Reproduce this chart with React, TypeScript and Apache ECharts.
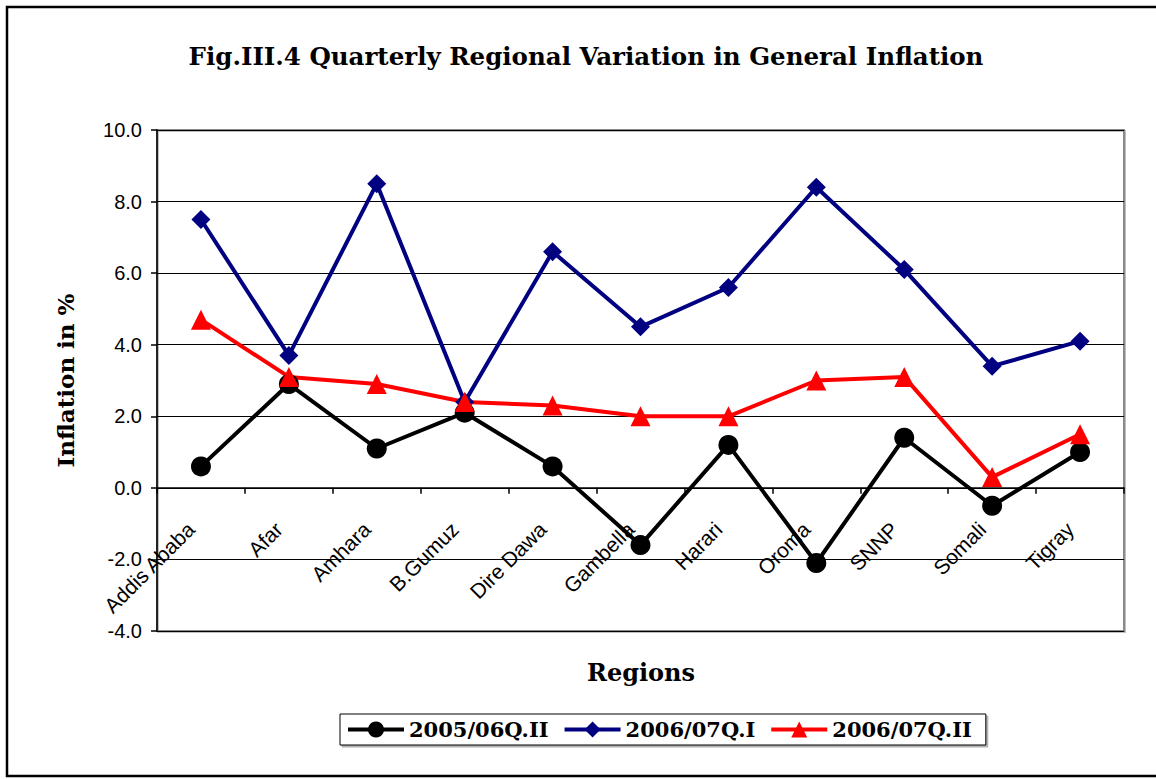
import React, { useEffect, useRef } from "react";
import * as echarts from "echarts";

const regions = ["Addis Ababa", "Afar", "Amhara", "B.Gumuz", "Dire Dawa", "Gambella", "Harari", "Oroma", "SNNP", "Somali", "Tigray"];
const s2005Q2 = [0.6, 2.9, 1.1, 2.1, 0.6, -1.6, 1.2, -2.1, 1.4, -0.5, 1.0];
const s2006Q1 = [7.5, 3.7, 8.5, 2.4, 6.6, 4.5, 5.6, 8.4, 6.1, 3.4, 4.1];
const s2006Q2 = [4.7, 3.1, 2.9, 2.4, 2.3, 2.0, 2.0, 3.0, 3.1, 0.3, 1.5];
const seriesNames = ["2005/06Q.II", "2006/07Q.I", "2006/07Q.II"];
const yMin = -4;
const yMax = 10;

const SERIF = "'DejaVu Serif', serif";
const SANS = "'Liberation Sans', Arial, sans-serif";

const GRID_TOP = 130;
const GRID_BOTTOM = 148;
const CHART_H = 779;

export default function App() {
  const ref = useRef<HTMLDivElement>(null);
  useEffect(() => {
    const chart = echarts.init(ref.current!, null, { renderer: "svg" });
    const plotH = CHART_H - GRID_TOP - GRID_BOTTOM;
    const zeroOffset = -(plotH * (0 - yMin)) / (yMax - yMin);
    chart.setOption({
      animation: false,
      backgroundColor: "#fff",
      grid: {
        left: 157, right: 32, top: GRID_TOP, bottom: GRID_BOTTOM,
        show: true, borderColor: "#8a8a8a", borderWidth: 2,
        shadowColor: "rgba(0,0,0,0.25)", shadowOffsetX: 1, shadowOffsetY: 1, shadowBlur: 1,
      },
      graphic: [
        { type: "rect", shape: { x: 7, y: 7, width: 1160, height: 769 }, style: { fill: "none", stroke: "#000", lineWidth: 2.5 }, silent: true },
        { type: "text", x: 586, y: 56, style: { text: "Fig.III.4 Quarterly Regional Variation in General Inflation", font: `bold 24.5px ${SERIF}`, fill: "#000", textAlign: "center", textVerticalAlign: "middle" } },
        { type: "text", x: 641, y: 672, style: { text: "Regions", font: `bold 24px ${SERIF}`, fill: "#000", textAlign: "center", textVerticalAlign: "middle" } },
      ],
      legend: {
        data: seriesNames,
        left: 340, top: 714, width: 700,
        itemWidth: 56, itemHeight: 20, itemGap: 14,
        padding: [5, 14, 5, 6],
        borderColor: "#000", borderWidth: 1, backgroundColor: "#fff",
        shadowColor: "rgba(0,0,0,0.3)", shadowOffsetX: 2, shadowOffsetY: 2,
        lineStyle: { width: 4 },
        textStyle: { fontFamily: SERIF, fontWeight: "bold", fontSize: 21, color: "#000" },
      },
      xAxis: {
        type: "category",
        data: regions,
        boundaryGap: true,
        offset: zeroOffset,
        axisLine: { onZero: false, lineStyle: { color: "#000", width: 1.5 } },
        axisTick: { show: true, length: 6, lineStyle: { color: "#000", width: 1.5 } },
        axisLabel: { rotate: 45, margin: 28, padding: [0, 14, 0, 0], fontFamily: SANS, fontSize: 21, color: "#000", interval: 0 },
      },
      yAxis: {
        type: "value",
        min: yMin, max: yMax, interval: 2,
        name: "Inflation in %",
        nameLocation: "middle",
        nameGap: 80,
        nameTextStyle: { fontFamily: SERIF, fontWeight: "bold", fontSize: 23, color: "#000" },
        axisLine: { show: true, lineStyle: { color: "#000", width: 1.5 } },
        axisTick: { show: true, length: 6, lineStyle: { color: "#000", width: 1.5 } },
        axisLabel: { formatter: (v: number) => v.toFixed(1), margin: 15, fontFamily: SANS, fontSize: 20, color: "#000" },
        splitLine: { show: true, lineStyle: { color: "#000", width: 1 } },
      },
      series: [
        { name: seriesNames[0], type: "line", data: s2005Q2, symbol: "circle", symbolSize: 20, lineStyle: { color: "#000", width: 4 }, itemStyle: { color: "#000" } },
        { name: seriesNames[1], type: "line", data: s2006Q1, symbol: "diamond", symbolSize: 19, lineStyle: { color: "#000080", width: 4 }, itemStyle: { color: "#000080" } },
        { name: seriesNames[2], type: "line", data: s2006Q2, symbol: "triangle", symbolSize: 20, lineStyle: { color: "#ff0000", width: 4 }, itemStyle: { color: "#ff0000" } },
      ],
    });
    return () => chart.dispose();
  }, []);
  return <div ref={ref} style={{ position: "absolute", left: 0, top: 0, width: 1156, height: 779 }} />;
}
